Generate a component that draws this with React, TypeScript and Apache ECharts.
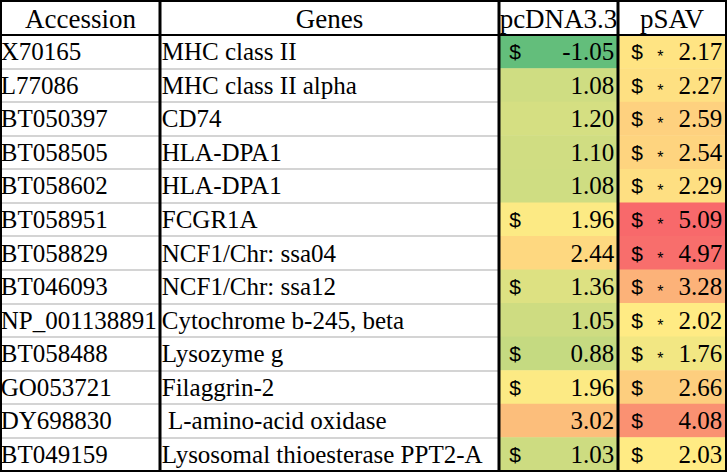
import React, { useEffect, useRef } from "react";
import * as echarts from "echarts";

const headers = ["Accession", "Genes", "pcDNA3.3", "pSAV"];
const accessions = ["X70165", "L77086", "BT050397", "BT058505", "BT058602", "BT058951", "BT058829", "BT046093", "NP_001138891", "BT058488", "GO053721", "DY698830", "BT049159"];
const genes = ["MHC class II", "MHC class II alpha", "CD74", "HLA-DPA1", "HLA-DPA1", "FCGR1A", "NCF1/Chr: ssa04", "NCF1/Chr: ssa12", "Cytochrome b-245, beta", "Lysozyme g", "Filaggrin-2", " L-amino-acid oxidase", "Lysosomal thioesterase PPT2-A"];
const pcdnaValues = [-1.05, 1.08, 1.2, 1.1, 1.08, 1.96, 2.44, 1.36, 1.05, 0.88, 1.96, 3.02, 1.03];
const psavValues = [2.17, 2.27, 2.59, 2.54, 2.29, 5.09, 4.97, 3.28, 2.02, 1.76, 2.66, 4.08, 2.03];
const pcdnaDollar = [1, 0, 0, 0, 0, 1, 0, 1, 0, 1, 1, 0, 1];
const psavDollar = [1, 1, 1, 1, 1, 1, 1, 1, 1, 1, 1, 1, 1];
const psavStar = [1, 1, 1, 1, 1, 1, 1, 1, 1, 1, 0, 0, 0];

const SERIF = "'Liberation Serif', 'Times New Roman', serif";
const SANS = "'Liberation Sans', 'DejaVu Sans', sans-serif";
const edges = [1, 160, 499, 618, 726];
const TOP = 35;
const BOTTOM = 471;

export default function App() {
  const ref = useRef<HTMLDivElement>(null);
  useEffect(() => {
    if (!ref.current) return;
    const chart = echarts.init(ref.current, undefined, { renderer: "svg" });
    const grids = headers.map((_, i) => ({
      left: edges[i],
      top: TOP,
      width: edges[i + 1] - edges[i],
      height: BOTTOM - TOP,
      show: false,
    }));
    const xAxes = headers.map((h, i) => ({
      type: "category",
      gridIndex: i,
      data: [h],
      position: "top",
      axisLine: { show: false },
      axisTick: { show: false },
      axisLabel: { fontFamily: SERIF, fontSize: 27, color: "#000", margin: 3 },
    }));
    const yAxes = headers.map((_, i) => ({
      type: "category",
      gridIndex: i,
      data: accessions,
      inverse: true,
      axisLine: { show: false },
      axisTick: { show: false },
      axisLabel: { show: false },
      splitLine: { show: i < 2, lineStyle: { color: "#d4d4d4", width: 2 } },
    }));
    const textSeries = [accessions, genes].map((arr, i) => ({
      type: "heatmap",
      xAxisIndex: i,
      yAxisIndex: i,
      data: arr.map((_, r) => [0, r, 0]),
      emphasis: { disabled: true },
      label: {
        show: true,
        position: "insideLeft",
        distance: i === 0 ? 0 : 2,
        fontFamily: SERIF,
        fontSize: 25,
        color: "#000",
        formatter: (p: any) => arr[p.data[1]],
      },
    }));
    const pcdnaSeries = {
      type: "heatmap",
      xAxisIndex: 2,
      yAxisIndex: 2,
      data: pcdnaValues.map((v, r) => [0, r, v]),
      emphasis: { disabled: true },
      label: {
        show: true,
        position: "insideRight",
        distance: 4,
        formatter: (p: any) => {
          const r = p.data[1];
          return `{d|${pcdnaDollar[r] ? "$" : ""}}{v|${pcdnaValues[r].toFixed(2)}}`;
        },
        rich: {
          d: { width: 20, align: "left", fontFamily: SANS, fontSize: 21, color: "#000" },
          v: { width: 85, align: "right", fontFamily: SERIF, fontSize: 25, color: "#000" },
        },
      },
    };
    const psavSeries = {
      type: "heatmap",
      xAxisIndex: 3,
      yAxisIndex: 3,
      data: psavValues.map((v, r) => [0, r, v]),
      emphasis: { disabled: true },
      label: {
        show: true,
        position: "insideRight",
        distance: 4,
        formatter: (p: any) => {
          const r = p.data[1];
          return `{d|${psavDollar[r] ? "$" : ""}}{s|${psavStar[r] ? "*" : ""}}{v|${psavValues[r].toFixed(2)}}`;
        },
        rich: {
          d: { width: 26, align: "left", fontFamily: SANS, fontSize: 21, color: "#000" },
          s: { width: 15, align: "left", fontFamily: SANS, fontSize: 16, color: "#000", padding: [10, 0, 0, 0] },
          v: { width: 50, align: "right", fontFamily: SERIF, fontSize: 25, color: "#000" },
        },
      },
    };
    const lineStyle = { stroke: "#000", lineWidth: 3 };
    chart.setOption({
      animation: false,
      grid: grids,
      xAxis: xAxes,
      yAxis: yAxes,
      visualMap: [
        {
          show: false,
          type: "continuous",
          seriesIndex: [2, 3],
          min: -1.05,
          max: 5.09,
          inRange: { color: ["#63BE7B", "#B1D480", "#FFEB84", "#FBA676", "#F8696B"] },
        },
        {
          show: false,
          type: "continuous",
          seriesIndex: [0, 1],
          min: 0,
          max: 1,
          inRange: { color: ["rgba(255,255,255,0)", "rgba(255,255,255,0)"] },
        },
      ],
      series: [...textSeries, pcdnaSeries, psavSeries],
      graphic: [
        { type: "rect", z: 100, shape: { x: 1, y: 1, width: 725, height: 470 }, style: { fill: "none", stroke: "#000", lineWidth: 2 } },
        { type: "line", z: 100, shape: { x1: 1, y1: TOP, x2: 726, y2: TOP }, style: { stroke: "#000", lineWidth: 2 } },
        ...edges.slice(1, 4).map((x) => ({ type: "line", z: 100, shape: { x1: x, y1: 1, x2: x, y2: BOTTOM }, style: lineStyle })),
      ],
    });
    return () => chart.dispose();
  }, []);
  return <div ref={ref} style={{ position: "absolute", left: 0, top: 0, width: 728, height: 473, background: "#fff" }} />;
}
